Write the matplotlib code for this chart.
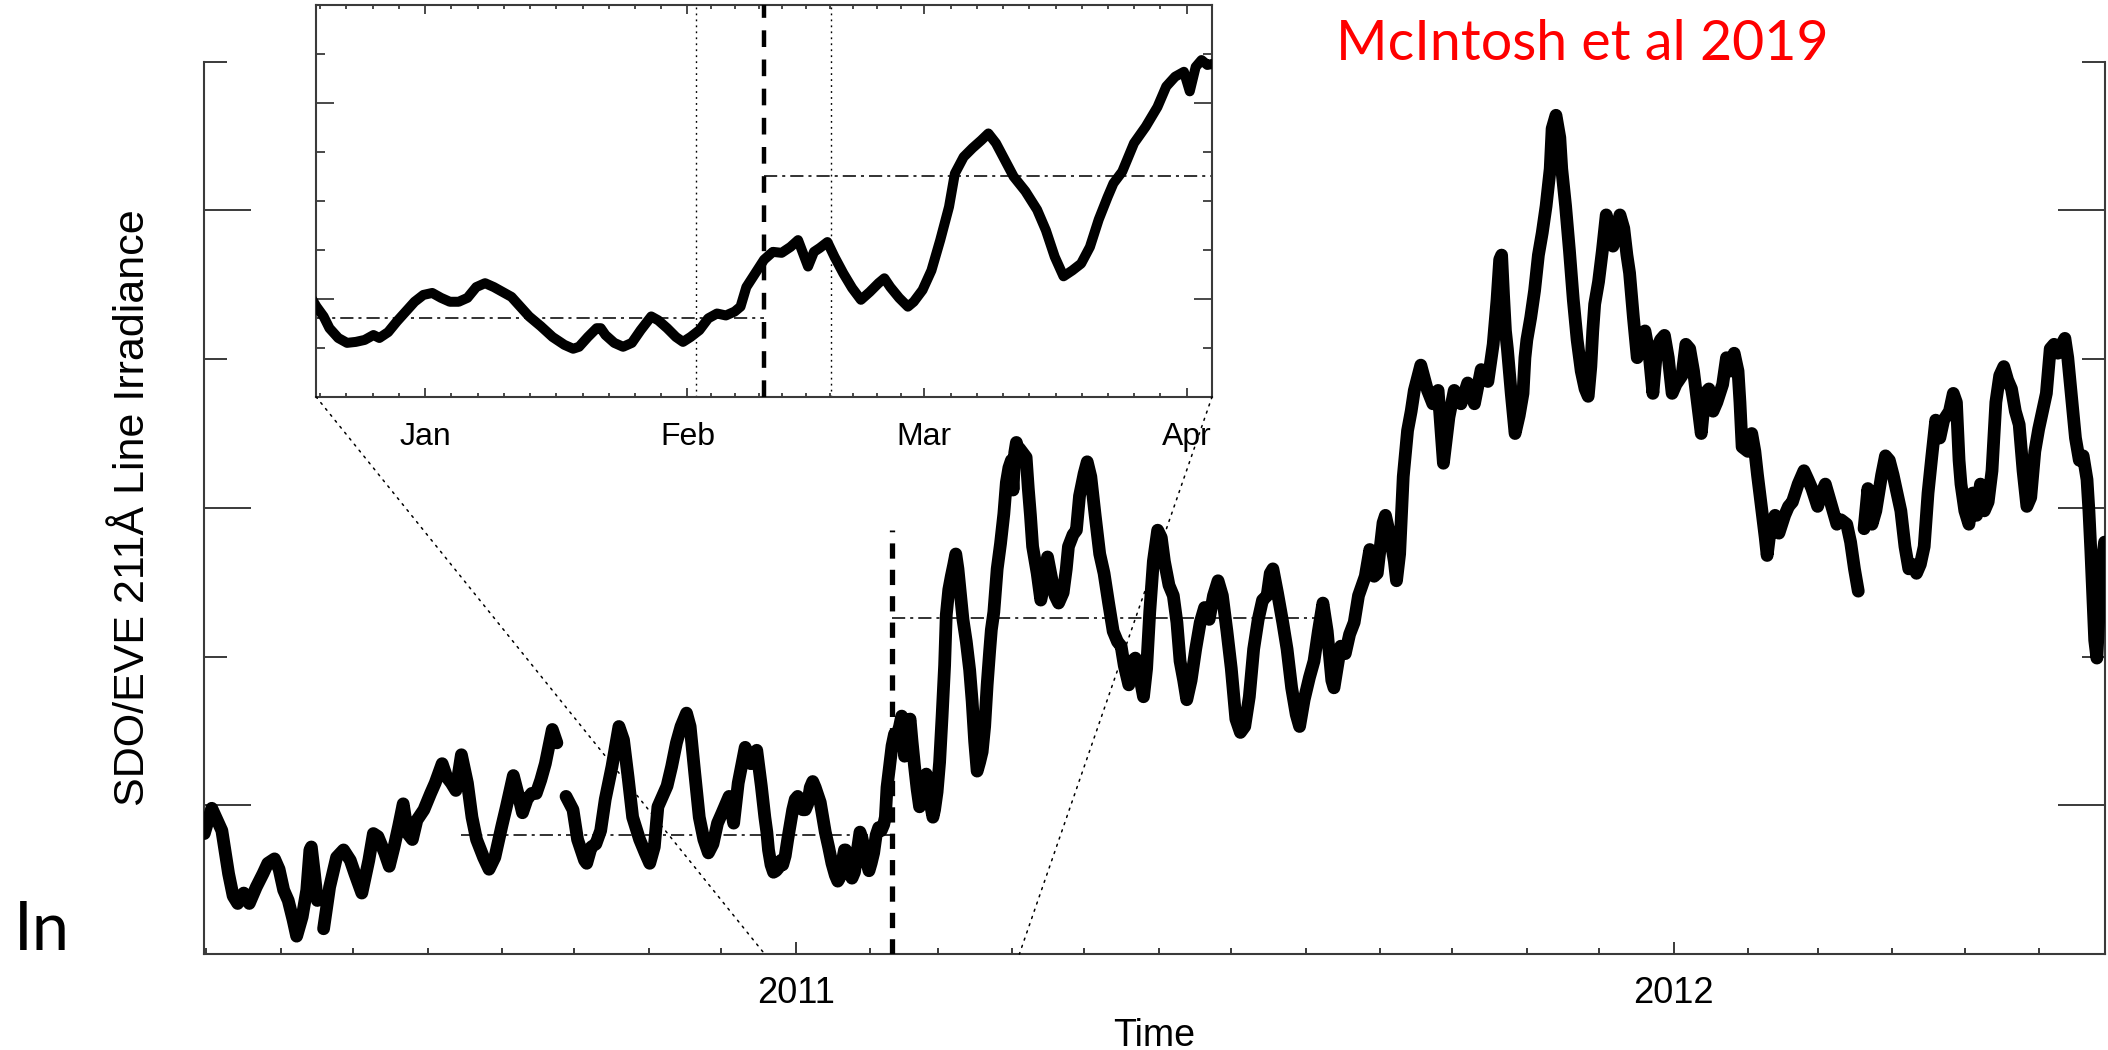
import numpy as np
import matplotlib
matplotlib.use("Agg")
import matplotlib.pyplot as plt
import matplotlib.dates as mdates
from matplotlib.patches import ConnectionPatch
from matplotlib.ticker import FixedLocator, MultipleLocator, NullFormatter

plt.rcParams['lines.scale_dashes'] = False
plt.rcParams['font.family'] = ['Liberation Sans', 'DejaVu Sans']

# Days since 2011-01-01 and SDO/EVE 211 A line irradiance (axis units); NaN marks a data gap
days = [
    -245.9, -242.8, -238.6, -235.8, -233.9, -232.0, -229.5, -227.2, -224.3, -221.5,
    -219.5, -216.7, -214.8, -212.9, -211.0, -209.0, -207.5, -205.2, -203.3, -202.0,
    -201.4, -200.1, -198.9, -197.6, -197.0,
    -196.3, -193.8, -190.9, -188.0, -185.2, -183.3, -180.4, -177.5, -175.6, -173.7,
    -170.9, -169.0, -167.0, -165.1, -163.2, -161.3, -159.4, -157.5, -154.6, -151.8,
    -149.9, -147.0, -145.1, -143.2, -141.3, -139.0, -136.5, -134.6, -132.7, -129.8,
    -127.5, -125.1, -122.2, -120.3, -117.4, -115.5, -113.6, -111.7, -109.8, -107.9,
    -106.0, -104.1, -101.2, -99.3, -97.5,
    -95.5, -92.6, -90.7, -87.8, -86.9, -85.0, -83.1, -81.1, -79.2, -76.4,
    -73.5, -71.6, -69.7, -67.8, -64.9, -62.6, -60.7, -58.8, -57.3, -55.4,
    -53.5, -51.6, -49.6, -47.7, -45.4, -43.9, -42.0, -40.1, -38.2, -36.3,
    -34.4, -32.5, -30.6, -27.7, -25.8, -23.9, -21.0, -18.7, -16.2, -14.3,
    -12.84, -12.0, -11.31, -10.27, -9.23, -8.19, -7.15, -6.11, -5.41, -4.37,
    -3.33, -2.29, -1.25, -0.21, 0.84, 1.88, 2.92, 3.96, 5.0, 6.04,
    7.08, 8.12, 9.16, 10.2, 11.25, 12.29, 13.67, 15.06, 16.45, 17.49,
    18.19, 19.23, 20.27, 20.75, 21.31, 22.35, 23.39, 24.43, 25.47, 26.72,
    27.55, 28.6, 29.64, 30.47, 31.37, 32.41, 33.45, 34.49, 35.54, 36.58,
    37.27, 37.96, 39.0, 40.05, 41.09, 42.13, 43.17, 44.07, 44.9, 45.25,
    45.95, 46.64, 47.54, 48.37, 49.42, 50.46, 51.5, 52.54, 53.58, 54.27,
    54.97, 56.01, 57.05, 57.74, 58.78, 59.83, 60.87, 61.91, 62.6, 63.64,
    64.68, 65.72, 66.56, 67.46, 68.5, 69.54, 70.93, 72.32, 73.36, 74.4,
    75.44, 76.48, 77.52, 78.56, 79.6, 80.65, 81.34, 82.38, 83.77, 85.16,
    86.54, 87.58, 88.63, 89.67, 90.36, 91.06, 91.75, 92.44, 93.0,
    95.8, 96.7, 97.6, 98.5, 100.4, 101.9, 103.2, 104.7, 106.0, 107.8,
    109.3, 111.2, 112.5, 113.4, 115.3, 116.7, 118.0, 119.9, 121.2, 122.7,
    124.5, 126.4, 128.2, 130.1, 132.0, 133.8, 135.3, 136.6, 138.5, 139.8,
    141.2, 143.1, 144.6, 145.9, 147.2, 148.7, 150.5, 152.0, 153.3, 155.2,
    157.0, 158.5, 159.8, 161.3, 162.6, 164.4, 166.3, 168.2, 170.0, 171.9,
    173.7, 175.6, 177.4, 179.3, 181.1, 183.0, 184.9, 186.7, 188.6, 190.4,
    192.3, 194.1, 196.0, 197.3, 198.4, 200.3, 202.5, 204.3, 206.2, 208.1,
    209.5, 211.4, 213.6, 215.5, 217.3, 219.2, 221.0, 222.9, 223.8, 225.1,
    226.6, 228.5, 230.3, 232.2, 234.0, 236.8, 238.7, 240.5, 241.8, 244.2,
    245.2, 247.0, 248.9, 249.8, 251.1, 252.6, 254.4, 255.9,
    257.2, 259.9, 262.7, 264.9, 267.1, 269.3, 271.6, 273.8, 276.6, 279.4,
    282.2, 285.0, 287.8, 290.0, 291.6,
    292.7, 293.5, 294.3, 295.1, 295.9, 297.5, 299.1, 300.8, 302.4, 303.2,
    304.0, 305.6, 307.2, 308.8, 310.4, 312.0, 313.7, 314.5, 316.1, 317.7,
    318.5, 320.1, 321.7, 323.3, 324.9, 326.6, 328.2, 329.5, 330.6, 331.4,
    332.2, 333.8, 335.4, 337.0, 338.6, 339.8, 341.1, 342.7, 344.3, 345.6,
    346.7, 348.3, 349.9, 351.5, 353.1, 354.8, 356.4, 358.0, 359.6, 361.2,
    362.8, 364.4, 366.0, 368.5, 370.1, 371.7, 373.3, 374.9, 376.5, 378.1,
    379.7, 381.4, 383.0, 385.4, 387.0, 388.6, 390.2, 391.8, 392.6, 393.5,
    395.9, 397.5, 398.8, 399.9, 401.5, 403.1, 403.9, 405.5, 407.2, 408.8,
    411.2, 412.8, 414.4, 416.8, 419.2, 420.9, 422.5, 424.9, 426.5, 428.1,
    429.7, 431.3, 432.9, 434.6, 437.0, 438.6, 440.2, 441.8, 443.0,
    444.2, 445.8, 447.5, 449.1, 451.5, 453.1, 454.7, 456.3, 457.9, 459.5,
    461.2, 462.8, 464.4, 466.0, 467.6, 469.2, 470.8, 472.4, 474.0, 475.7,
    477.3, 479.7, 481.3, 482.6, 483.7, 484.5, 486.1, 487.8, 489.4, 491.0,
    492.6, 494.2, 495.8, 497.4, 499.0, 500.6, 502.3, 503.9, 505.5, 507.1,
    508.7, 510.3, 511.9, 513.5, 515.2, 516.8, 518.4, 520.0, 521.6, 523.2,
    524.8, 526.4, 527.7, 528.9, 530.5, 532.1, 533.7, 535.3, 536.9, 537.7,
    538.5, 539.3, 540.1, 541.0, 541.8, 542.6, 544.2,
]
irradiance = [
    0.81, 0.98, 0.83, 0.54, 0.39, 0.34, 0.41, 0.34, 0.45, 0.54,
    0.61, 0.64, 0.57, 0.43, 0.36, 0.23, 0.12, 0.25, 0.43, 0.70,
    0.72, 0.54, 0.36, 0.37, np.nan,
    0.17, 0.45, 0.65, 0.70, 0.63, 0.54, 0.41, 0.63, 0.81, 0.79,
    0.68, 0.59, 0.72, 0.86, 1.01, 0.81, 0.77, 0.90, 0.97, 1.08,
    1.15, 1.28, 1.19, 1.15, 1.10, 1.34, 1.15, 0.92, 0.77, 0.65,
    0.57, 0.65, 0.86, 0.99, 1.20, 1.08, 0.95, 1.04, 1.08, 1.08,
    1.17, 1.28, 1.51, 1.42, np.nan,
    1.06, 0.97, 0.77, 0.63, 0.61, 0.72, 0.74, 0.83, 1.04, 1.26,
    1.53, 1.44, 1.19, 0.92, 0.77, 0.68, 0.61, 0.72, 0.99, 1.06,
    1.13, 1.26, 1.42, 1.53, 1.62, 1.53, 1.22, 0.92, 0.77, 0.68,
    0.74, 0.88, 0.95, 1.06, 0.88, 1.15, 1.39, 1.28, 1.37, 1.13,
    0.92, 0.82, 0.70, 0.60, 0.55, 0.56, 0.58, 0.63, 0.60, 0.66,
    0.77, 0.87, 0.97, 1.04, 1.06, 1.01, 0.97, 0.97, 1.01, 1.12,
    1.16, 1.12, 1.07, 1.02, 0.92, 0.82, 0.72, 0.61, 0.53, 0.49,
    0.51, 0.61, 0.70, 0.70, 0.63, 0.55, 0.51, 0.55, 0.68, 0.82,
    0.78, 0.70, 0.61, 0.56, 0.61, 0.68, 0.80, 0.85, 0.83, 0.87,
    0.92, 1.12, 1.26, 1.40, 1.48, 1.47, 1.53, 1.60, 1.41, 1.33,
    1.48, 1.52, 1.58, 1.43, 1.26, 1.11, 0.99, 1.07, 1.16, 1.21,
    1.12, 1.01, 0.92, 0.97, 1.09, 1.29, 1.60, 1.94, 2.28, 2.45,
    2.54, 2.62, 2.69, 2.59, 2.42, 2.25, 2.10, 1.91, 1.70, 1.43,
    1.23, 1.29, 1.36, 1.53, 1.81, 2.04, 2.18, 2.30, 2.59, 2.76,
    2.96, 3.17, 3.27, 3.32, 3.12, 3.37, 3.44, 3.39, 3.40,
    3.34, 3.13, 2.95, 2.74, 2.56, 2.38, 2.48, 2.67, 2.56, 2.41,
    2.36, 2.43, 2.59, 2.74, 2.82, 2.85, 3.08, 3.23, 3.31, 3.21,
    2.95, 2.69, 2.56, 2.36, 2.17, 2.10, 2.07, 1.94, 1.81, 1.97,
    1.99, 1.86, 1.73, 1.92, 2.30, 2.64, 2.85, 2.80, 2.64, 2.48,
    2.41, 2.23, 1.97, 1.84, 1.71, 1.84, 2.05, 2.23, 2.33, 2.25,
    2.41, 2.51, 2.41, 2.17, 1.92, 1.58, 1.49, 1.53, 1.73, 2.05,
    2.25, 2.38, 2.41, 2.56, 2.59, 2.43, 2.23, 2.05, 1.79, 1.61,
    1.53, 1.71, 1.86, 1.97, 2.17, 2.36, 2.17, 1.84, 1.79, 1.92,
    2.07, 2.02, 2.15, 2.23, 2.41, 2.54, 2.72, 2.54, 2.56, 2.90,
    2.95, 2.82, 2.64, 2.51, 2.69, 3.21, 3.52, 3.65,
    3.79, 3.96, 3.79, 3.70, 3.79, 3.30, 3.61, 3.79, 3.70, 3.84,
    3.70, 3.93, 3.85, 4.10, 4.40,
    4.67, 4.70, 4.43, 4.19, 4.07, 3.77, 3.50, 3.62, 3.77, 4.01,
    4.13, 4.28, 4.46, 4.70, 4.85, 5.03, 5.28, 5.55, 5.64, 5.49,
    5.28, 5.03, 4.73, 4.40, 4.13, 3.92, 3.80, 3.75, 3.95, 4.19,
    4.37, 4.52, 4.73, 4.97, 4.88, 4.76, 4.85, 4.97, 4.88, 4.70,
    4.58, 4.28, 4.01, 4.10, 4.19, 4.04, 3.77, 4.07, 4.13, 4.16,
    4.01, 3.77, 3.83, 3.89, 4.10, 4.07, 3.92, 3.71, 3.50, 3.77,
    3.80, 3.65, 3.71, 3.83, 4.01, 3.92, 4.04, 3.92, 3.71, 3.41,
    3.38, 3.50, 3.38, 3.22, 3.01, 2.80, 2.68, 2.89, 2.95, 2.83,
    2.95, 3.01, 3.04, 3.16, 3.25, 3.19, 3.13, 3.01, 3.10, 3.16,
    3.07, 2.98, 2.89, 2.92, 2.89, 2.77, 2.59, 2.44, np.nan,
    2.86, 3.13, 2.89, 2.98, 3.22, 3.35, 3.32, 3.22, 3.10, 2.98,
    2.74, 2.59, 2.62, 2.56, 2.62, 2.74, 3.10, 3.35, 3.59, 3.47,
    3.59, 3.65, 3.77, 3.71, 3.32, 3.16, 2.98, 2.89, 3.10, 2.95,
    3.16, 2.98, 3.04, 3.25, 3.71, 3.89, 3.95, 3.86, 3.80, 3.65,
    3.56, 3.25, 3.01, 3.07, 3.38, 3.53, 3.65, 3.77, 4.07, 4.10,
    4.04, 4.10, 4.14, 4.01, 3.74, 3.47, 3.32, 3.35, 3.19, 2.98,
    2.71, 2.41, 2.11, 1.99, 2.26, 2.56, 2.77,
]

# Reference date (2011-02-10) and the averages taken either side of it
ref_day = 40
half_window = 179
level_before = 0.80
level_after = 2.26
marker_top = 2.85
side_band = 8

# Date range of the enlarged panel (days since 2011-01-01)
inset_range = (-12.9, 93.0)

# Full time span of the main panel (days since 2011-01-01)
main_range = (-246.0, 544.4)

t0 = mdates.date2num(np.datetime64('2011-01-01'))
x = t0 + np.asarray(days, dtype=float)
y = np.asarray(irradiance, dtype=float)

ink = 'black'
axis_grey = '#3a3a3a'
dashdot = (0, (9.5, 3.6, 2.2, 3.6))
dotted = (0, (1.3, 3.0))

fig = plt.figure(figsize=(21.08, 10.5), dpi=100)

# ---------------- main panel ----------------
ax = fig.add_axes([0.0968, 0.0914, 0.9018, 0.8498])
ax.plot(x, y, color=ink, lw=9.2, solid_joinstyle='round',
        solid_capstyle='round', zorder=3)
ax.plot([t0 + ref_day - half_window, t0 + ref_day], [level_before] * 2,
        color='#222222', lw=1.3, linestyle=dashdot, zorder=2)
ax.plot([t0 + ref_day, t0 + ref_day + half_window], [level_after] * 2,
        color='#222222', lw=1.3, linestyle=dashdot, zorder=2)
ax.plot([t0 + ref_day] * 2, [0, marker_top], color=ink, lw=3.8,
        linestyle=(0, (11, 8)), zorder=4)

ax.set_xlim(t0 + main_range[0], t0 + main_range[1])
ax.set_ylim(0, 6)
ax.spines['top'].set_visible(False)
for s in ('left', 'right', 'bottom'):
    ax.spines[s].set_linewidth(1.5)
    ax.spines[s].set_color(axis_grey)

ax.xaxis.set_major_locator(mdates.YearLocator())
ax.xaxis.set_major_formatter(mdates.DateFormatter('%Y'))
ax.xaxis.set_minor_locator(mdates.MonthLocator())
ax.yaxis.set_major_locator(FixedLocator([1, 3, 5]))
ax.yaxis.set_minor_locator(FixedLocator([0, 2, 4, 6]))
ax.yaxis.set_major_formatter(NullFormatter())

ax.tick_params(axis='x', which='major', direction='in', length=8.6, width=1.4,
               color=axis_grey, labelsize=26, pad=16, top=False)
ax.tick_params(axis='x', which='minor', direction='in', length=4.1, width=1.4,
               color=axis_grey, top=False)
ax.tick_params(axis='y', which='major', direction='in', length=33.8, width=1.4,
               color=axis_grey, left=True, right=True, labelleft=False)
ax.tick_params(axis='y', which='minor', direction='in', length=16.6, width=1.4,
               color=axis_grey, left=True, right=True)

ax.set_xlabel('Time', fontsize=27, labelpad=5)
ax.set_ylabel('SDO/EVE 211Å Line Irradiance', fontsize=31, va='center',
              family=['Liberation Sans Narrow', 'Liberation Sans', 'DejaVu Sans'])
ax.yaxis.set_label_coords(-0.0375, 0.5)

# ---------------- enlarged panel ----------------
axin = fig.add_axes([0.1499, 0.6222, 0.4251, 0.3728])
axin.set_facecolor('white')
axin.plot(x, y, color=ink, lw=7.2, solid_joinstyle='round',
          solid_capstyle='round', zorder=3)
axin.plot([t0 + ref_day - half_window, t0 + ref_day], [level_before] * 2,
          color='#222222', lw=1.3, linestyle=dashdot, zorder=2)
axin.plot([t0 + ref_day, t0 + ref_day + half_window], [level_after] * 2,
          color='#222222', lw=1.3, linestyle=dashdot, zorder=2)
axin.axvline(t0 + ref_day, color=ink, lw=3.2, linestyle=(0, (12, 9)), zorder=4)
for off in (-side_band, side_band):
    axin.axvline(t0 + ref_day + off, color=ink, lw=1.0, linestyle=dotted, zorder=2)

axin.set_xlim(t0 + inset_range[0], t0 + inset_range[1])
axin.set_ylim(0, 4)
for s in axin.spines.values():
    s.set_linewidth(1.5)
    s.set_color(axis_grey)

month_starts = np.array([-31, 0, 31, 59, 90, 120], dtype=float)
minor_days = np.concatenate([np.linspace(a, b, 11)[:-1]
                             for a, b in zip(month_starts[:-1], month_starts[1:])])
axin.xaxis.set_major_locator(mdates.MonthLocator())
axin.xaxis.set_major_formatter(mdates.DateFormatter('%b'))
axin.xaxis.set_minor_locator(FixedLocator(t0 + minor_days))
axin.yaxis.set_major_locator(FixedLocator([1, 3]))
axin.yaxis.set_minor_locator(MultipleLocator(0.5))
axin.yaxis.set_major_formatter(NullFormatter())

axin.tick_params(axis='x', which='major', direction='in', length=6.2, width=1.3,
                 color=axis_grey, top=True, labelsize=23, pad=18)
axin.tick_params(axis='x', which='minor', direction='in', length=3.2, width=1.3,
                 color=axis_grey, top=True)
axin.tick_params(axis='y', which='major', direction='in', length=13, width=1.3,
                 color=axis_grey, left=True, right=True, labelleft=False)
axin.tick_params(axis='y', which='minor', direction='in', length=6.5, width=1.3,
                 color=axis_grey, left=True, right=True)

# dotted guides from the enlarged panel down to its date range
for corner, day in ((0, inset_range[0]), (1, inset_range[1])):
    con = ConnectionPatch(xyA=(corner, 0), coordsA=axin.transAxes,
                          xyB=(t0 + day, 0), coordsB=ax.transData,
                          color=ink, lw=1.1, linestyle=(0, (1.5, 4.0)), zorder=1)
    fig.add_artist(con)

fig.text(1336 / 2108, 1 - 60.5 / 1050, 'McIntosh et al 2019', color='#ff0000',
         fontsize=40, family=['Lato', 'DejaVu Sans'], ha='left', va='baseline')
fig.text(14 / 2108, 1 - 950 / 1050, 'In', color='black', fontsize=48,
         family=['Lato', 'DejaVu Sans'], ha='left', va='baseline')

fig.savefig('out.png', dpi=100, facecolor='white')
